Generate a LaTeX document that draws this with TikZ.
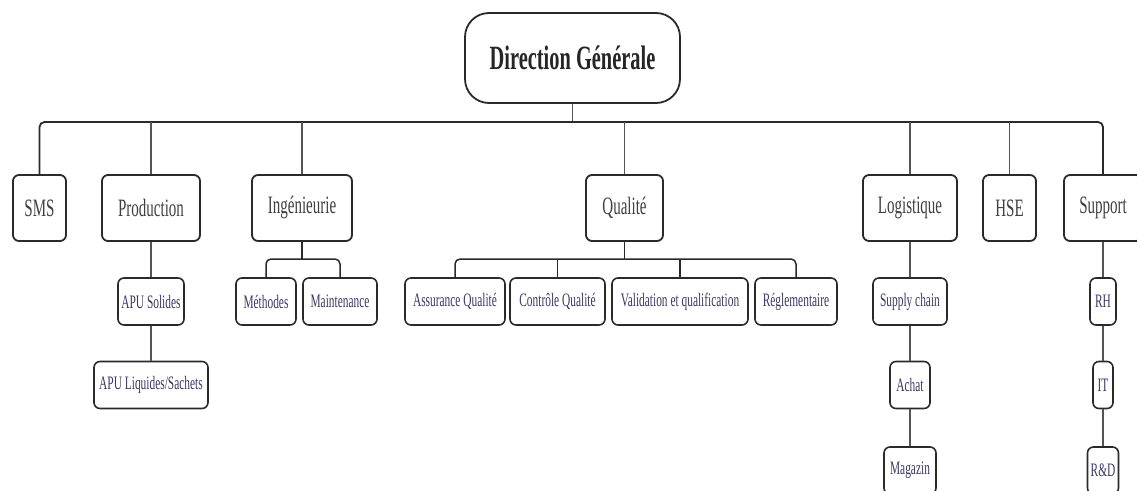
\documentclass[tikz,border=0pt]{standalone}
\usepackage{fontspec}
\setmainfont{Liberation Serif}[FakeStretch=0.6]
\definecolor{edge}{HTML}{2A2A2A}
\definecolor{wire}{HTML}{555555}
\definecolor{maintext}{HTML}{404040}
\definecolor{subtext}{HTML}{3A3A66}
\tikzset{
  topbox/.style={draw=edge, line width=1.8pt, rounded corners=24pt, fill=white,
    minimum width=215pt, minimum height=90pt, inner sep=0pt,
    font=\fontsize{34}{36}\selectfont\bfseries, text=black!85},
  unit/.style={draw=edge, line width=1.8pt, rounded corners=6pt, fill=white,
    minimum height=66pt, inner sep=0pt,
    font=\fontsize{25}{27}\selectfont, text=maintext},
  subunit/.style={draw=edge, line width=1.6pt, rounded corners=6pt, fill=white,
    minimum height=47pt, inner sep=0pt,
    font=\fontsize{19}{21}\selectfont, text=subtext},
  bus/.style={draw=edge, line width=1.8pt, rounded corners=5pt},
  wire/.style={draw=wire, line width=1.3pt},
  branch/.style={draw=edge, line width=1.5pt, rounded corners=5pt},
}
\begin{document}
\begin{tikzpicture}[x=1pt, y=-1pt]
\useasboundingbox (0,0) rectangle (1137,490);
\clip (0,0) rectangle (1137,490);
\fill[white] (0,0) rectangle (1137,490);

% top of the chart
\node[topbox] (dg) at (572.5,58) {Direction Générale};
\coordinate (bus) at (572.5,122);

% departments
\node[unit, minimum width=53pt]  (sms)  at (39.5,208)  {SMS};
\node[unit, minimum width=98pt]  (prod) at (151,208)   {Production};
\node[unit, minimum width=100pt] (ing)  at (302,208)   {Ingénieurie};
\node[unit, minimum width=77pt]  (qual) at (624.5,208) {Qualité};
\node[unit, minimum width=94pt]  (log)  at (910,208)   {Logistique};
\node[unit, minimum width=53pt]  (hse)  at (1009.5,208){HSE};
\node[unit, minimum width=78pt]  (sup)  at (1103,208)  {Support};

% production
\node[subunit, minimum width=66pt]  (apus) at (151,301.5) {APU Solides};
\node[subunit, minimum width=114pt] (apul) at (151,385)   {APU Liquides/Sachets};

% engineering
\node[subunit, minimum width=60pt] (meth)  at (266,301.5) {Méthodes};
\node[subunit, minimum width=74pt] (maint) at (340,301.5) {Maintenance};

% quality
\node[subunit, minimum width=100pt] (aq)  at (455,301.5)   {Assurance Qualité};
\node[subunit, minimum width=95pt]  (cq)  at (557.5,301.5) {Contrôle Qualité};
\node[subunit, minimum width=136pt] (val) at (680,301.5)   {Validation et qualification};
\node[subunit, minimum width=82pt]  (reg) at (796,301.5)   {Réglementaire};

% logistics
\node[subunit, minimum width=74pt] (sc)  at (910,301.5) {Supply chain};
\node[subunit, minimum width=40pt] (ach) at (910,385)   {Achat};
\node[subunit, minimum width=52pt] (mag) at (910,470.5) {Magazin};

% support
\node[subunit, minimum width=26pt] (rh) at (1103,301.5) {RH};
\node[subunit, minimum width=20pt] (it) at (1103,385)   {IT};
\node[subunit, minimum width=31pt] (rd) at (1103,470.5) {R\&D};

% main bus
\draw[wire] (dg.south) -- (bus);
\draw[bus] (sms.north) |- (bus) -| (sup.north);
\foreach \n in {prod, ing, qual, log, hse}
  \draw[wire] (\n.north) -- (\n.north |- bus);

% vertical chains
\draw[wire] (prod.south) -- (apus.north);
\draw[wire] (apus.south) -- (apul.north);
\draw[wire] (log.south) -- (sc.north);
\draw[wire] (sc.south) -- (ach.north);
\draw[wire] (ach.south) -- (mag.north);
\draw[wire] (sup.south) -- (rh.north);
\draw[wire] (rh.south) -- (it.north);
\draw[wire] (it.south) -- (rd.north);

% engineering branch
\coordinate (ingb) at (302,259);
\draw[branch] (ing.south) -- (ingb);
\draw[branch] (meth.north) |- (ingb) -| (maint.north);

% quality branch
\coordinate (qualb) at (624.5,259);
\draw[branch] (qual.south) -- (qualb);
\draw[branch] (aq.north) |- (qualb) -| (reg.north);
\draw[branch] (cq.north) -- (cq.north |- qualb);
\draw[branch] (val.north) -- (val.north |- qualb);
\end{tikzpicture}
\end{document}
